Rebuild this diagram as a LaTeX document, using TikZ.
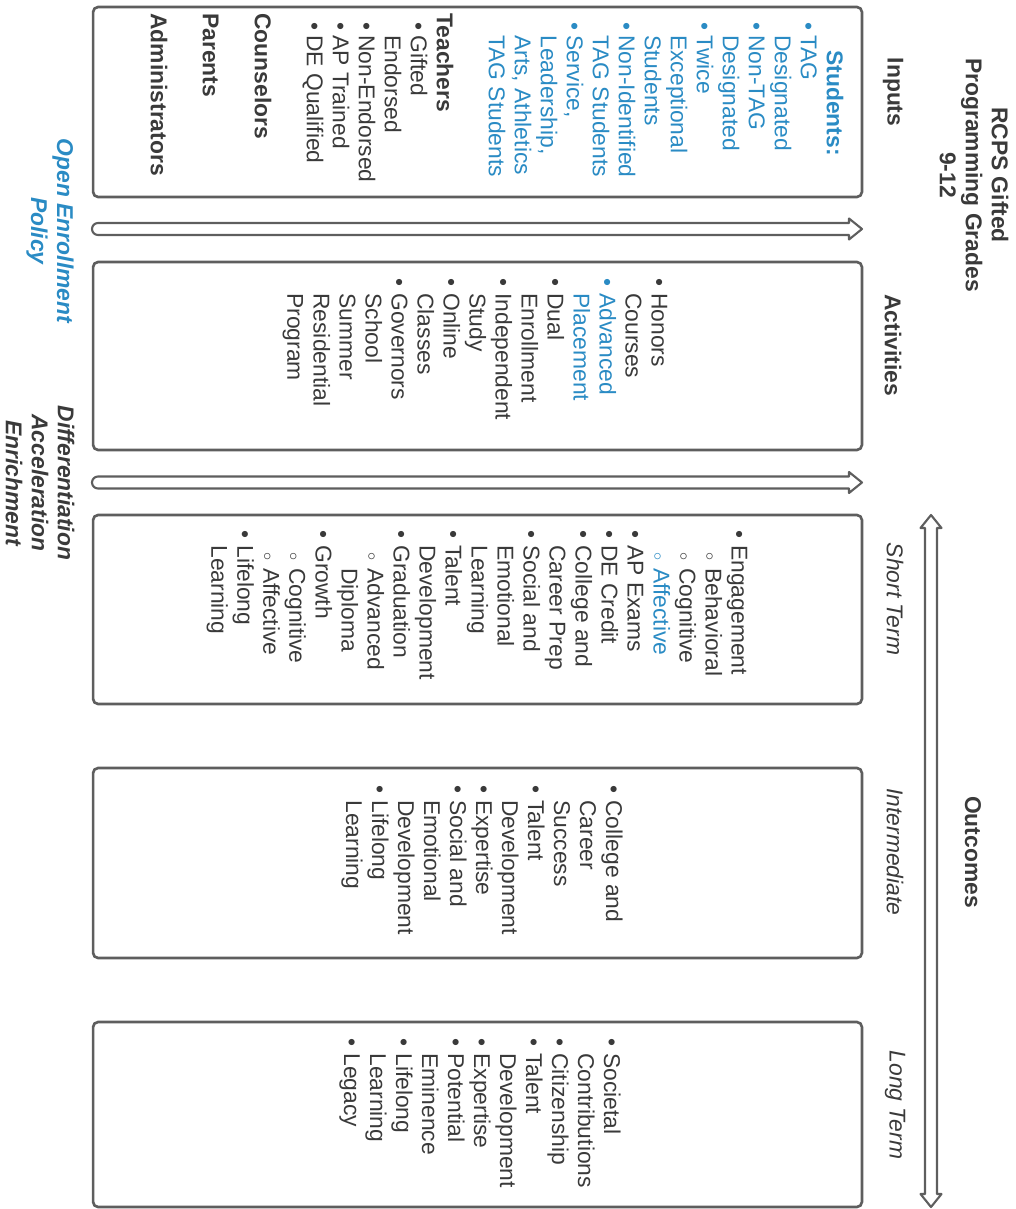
\documentclass[tikz,border=0pt]{standalone}
\usepackage{fontspec}
\setmainfont{Liberation Sans}
\usetikzlibrary{positioning}

\definecolor{framegray}{HTML}{5E5E5E}
\definecolor{textdark}{HTML}{3A3A3A}
\definecolor{tagblue}{HTML}{2A8BC4}

% bullets for the rotated lists
\newcommand{\listbul}{\makebox[0.3cm][l]{•}}
\newcommand{\listcont}{\hspace*{0.3cm}}
\newcommand{\subbul}{\hspace*{0.44cm}\makebox[0.32cm][l]{$\scriptstyle\circ$}}
\newcommand{\subcont}{\hspace*{0.76cm}}
\newcommand{\inbul}{\hspace*{0.18cm}\makebox[0.26cm][l]{•}}
\newcommand{\incont}{\hspace*{0.44cm}}

\tikzset{
  panel/.style={draw=framegray, line width=1.5pt, rounded corners=0.1cm, inner sep=0pt, minimum width=15.38cm},
  flowarrow/.style={draw=framegray, line width=1.2pt, line join=round},
  listtext/.style={rotate=-90, anchor=west, align=left, inner sep=0pt, text=textdark, font=\fontsize{13pt}{14.8pt}\selectfont},
  heading/.style={rotate=-90, align=center, inner sep=0pt, text=textdark, font=\bfseries\fontsize{13pt}{14.8pt}\selectfont},
  termlabel/.style={rotate=-90, inner sep=0pt, text=textdark, font=\itshape\fontsize{13pt}{14.8pt}\selectfont},
  sidenote/.style={rotate=-90, align=center, inner sep=0pt, text=textdark, font=\bfseries\itshape\fontsize{13pt}{14.8pt}\selectfont}
}

\begin{document}
\begin{tikzpicture}[x=0.02cm, y=0.02cm]
    \useasboundingbox (0,0) rectangle (1015,-1209);

    % Title and column headings
    \node[heading] (title) at (974,-175) {RCPS Gifted\\Programming Grades\\9-12};
    \node[heading] (inputslabel) at (893,-92) {Inputs};
    \node[heading] (activitylabel) at (893,-345) {Activities};
    \node[heading] (outcomeslabel) at (973,-852) {Outcomes};
    \node[termlabel] (shortlabel) at (895,-599) {Short Term};
    \node[termlabel] (midlabel) at (895,-852) {Intermediate};
    \node[termlabel] (longlabel) at (895,-1105) {Long Term};

    % Boxes
    \node[panel, minimum height=3.8cm] (inputs) at (477.5,-102) {};
    \node[panel, minimum height=3.76cm] (activities) at (477.5,-356) {};
    \node[panel, minimum height=3.78cm] (shortterm) at (477.5,-609.5) {};
    \node[panel, minimum height=3.8cm] (midterm) at (477.5,-863) {};
    \node[panel, minimum height=3.7cm] (longterm) at (477.5,-1114.5) {};

    % Inputs
    \node[listtext] (inputslist) at (497,-13) {%
        {\color{tagblue}\hspace*{0.74cm}\bfseries Students:}\\
        {\color{tagblue}\inbul TAG}\\
        {\color{tagblue}\incont Designated}\\
        {\color{tagblue}\inbul Non-TAG}\\
        {\color{tagblue}\incont Designated}\\
        {\color{tagblue}\inbul Twice}\\
        {\color{tagblue}\incont Exceptional}\\
        {\color{tagblue}\incont Students}\\
        {\color{tagblue}\inbul Non-Identified}\\
        {\color{tagblue}\incont TAG Students}\\
        {\color{tagblue}\inbul Service,}\\
        {\color{tagblue}\incont Leadership,}\\
        {\color{tagblue}\incont Arts, Athletics}\\
        {\color{tagblue}\incont TAG Students}\\[0.52cm]
        \textbf{Teachers}\\
        \inbul Gifted\\
        \incont Endorsed\\
        \inbul Non-Endorsed\\
        \inbul AP Trained\\
        \inbul DE Qualified\\[0.52cm]
        \textbf{Counselors}\\[0.52cm]
        \textbf{Parents}\\[0.52cm]
        \textbf{Administrators}};

    % Activities
    \node[listtext] (activitylist) at (475,-278) {%
        \listbul Honors\\
        \listcont Courses\\
        {\color{tagblue}\listbul Advanced}\\
        {\color{tagblue}\listcont Placement}\\
        \listbul Dual\\
        \listcont Enrollment\\
        \listbul Independent\\
        \listcont Study\\
        \listbul Online\\
        \listcont Classes\\
        \listbul Governors\\
        \listcont School\\
        \listcont Summer\\
        \listcont Residential\\
        \listcont Program};

    % Short term outcomes
    \node[listtext] (shortlist) at (477,-530) {%
        \listbul Engagement\\
        \subbul Behavioral\\
        \subbul Cognitive\\
        {\color{tagblue}\subbul Affective}\\
        \listbul AP Exams\\
        \listbul DE Credit\\
        \listbul College and\\
        \listcont Career Prep\\
        \listbul Social and\\
        \listcont Emotional\\
        \listcont Learning\\
        \listbul Talent\\
        \listcont Development\\
        \listbul Graduation\\
        \subbul Advanced\\
        \subcont Diploma\\
        \listbul Growth\\
        \subbul Cognitive\\
        \subbul Affective\\
        \listbul Lifelong\\
        \listcont Learning};

    % Intermediate outcomes
    \node[listtext] (midlist) at (482,-785) {%
        \listbul College and\\
        \listcont Career\\
        \listcont Success\\
        \listbul Talent\\
        \listcont Development\\
        \listbul Expertise\\
        \listbul Social and\\
        \listcont Emotional\\
        \listcont Development\\
        \listbul Lifelong\\
        \listcont Learning};

    % Long term outcomes
    \node[listtext] (longlist) at (480,-1038) {%
        \listbul Societal\\
        \listcont Contributions\\
        \listbul Citizenship\\
        \listbul Talent\\
        \listcont Development\\
        \listbul Expertise\\
        \listbul Potential\\
        \listcont Eminence\\
        \listbul Lifelong\\
        \listcont Learning\\
        \listbul Legacy};

    % Hollow arrows between the boxes
    \draw[flowarrow] (98,-223) -- (849,-223) -- (849,-218.5) -- (862,-229) -- (849,-239.5) -- (849,-235) -- (98,-235) arc[start angle=270, end angle=90, radius=0.12cm] -- cycle;
    \draw[flowarrow] (98,-476.5) -- (849,-476.5) -- (849,-472) -- (862,-482.5) -- (849,-493) -- (849,-488.5) -- (98,-488.5) arc[start angle=270, end angle=90, radius=0.12cm] -- cycle;

    % Outcomes arrow, both ways
    \draw[flowarrow] (931,-515) -- (941.5,-528) -- (937,-528) -- (937,-1194) -- (941.5,-1194) -- (931,-1207) -- (920.5,-1194) -- (925,-1194) -- (925,-528) -- (920.5,-528) -- cycle;

    % Notes under the arrows
    \node[sidenote, text=tagblue] (policy) at (50,-231) {Open Enrollment\\Policy};
    \node[sidenote] (methods) at (40,-483) {Differentiation\\Acceleration\\Enrichment};
\end{tikzpicture}
\end{document}
